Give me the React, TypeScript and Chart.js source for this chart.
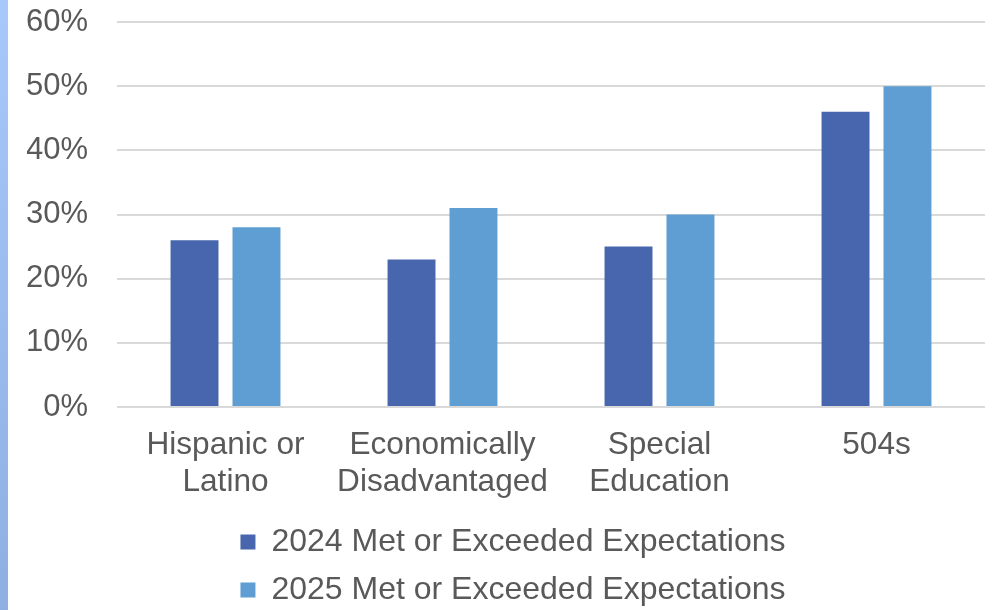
import React, { useEffect, useRef } from "react";
import { Chart, registerables } from "chart.js";

Chart.register(...registerables);

const categories: string[][] = [
  ["Hispanic or", "Latino"],
  ["Economically", "Disadvantaged"],
  ["Special", "Education"],
  ["504s"],
];
const series2024: number[] = [26, 23, 25, 46];
const series2025: number[] = [28, 31, 30, 50];
const seriesNames: string[] = [
  "2024 Met or Exceeded Expectations",
  "2025 Met or Exceeded Expectations",
];
const yTicks: number[] = [0, 10, 20, 30, 40, 50, 60];

const FONT = "'Liberation Sans', Arial, sans-serif";
const TEXT = "#595959";

export default function App() {
  const ref = useRef<HTMLCanvasElement | null>(null);

  useEffect(() => {
    if (!ref.current) return;
    const chart = new Chart(ref.current, {
      type: "bar",
      data: {
        labels: categories,
        datasets: [
          {
            label: seriesNames[0],
            data: series2024,
            backgroundColor: "#4866ad",
            categoryPercentage: 0.571,
            barPercentage: 0.774,
          },
          {
            label: seriesNames[1],
            data: series2025,
            backgroundColor: "#5f9ed2",
            categoryPercentage: 0.571,
            barPercentage: 0.774,
          },
        ],
      },
      options: {
        animation: false,
        responsive: false,
        maintainAspectRatio: false,
        layout: {
          autoPadding: false,
          padding: { left: 27, right: 1, top: 22, bottom: -6 },
        },
        plugins: {
          tooltip: { enabled: false },
          legend: {
            position: "bottom",
            labels: {
              color: TEXT,
              font: { family: FONT, size: 32 },
              boxWidth: 15,
              boxHeight: 15,
              padding: 16,
            },
          },
        },
        scales: {
          x: {
            grid: { display: false, drawTicks: false },
            border: { display: false },
            afterFit: (s: any) => {
              s.height = 103;
            },
            ticks: {
              color: TEXT,
              font: { family: FONT, size: 31.6, lineHeight: 1.17 },
              padding: 19.5,
              maxRotation: 0,
              autoSkip: false,
            },
          },
          y: {
            min: 0,
            max: 60,
            afterBuildTicks: (axis: any) => {
              axis.ticks = yTicks.map((v) => ({ value: v }));
            },
            afterFit: (s: any) => {
              s.width = 90;
            },
            grid: {
              color: "#d9d9d9",
              lineWidth: 2,
              drawTicks: true,
              tickLength: 29,
              tickColor: "rgba(0,0,0,0)",
            },
            border: { display: false },
            ticks: {
              color: TEXT,
              font: { family: FONT, size: 31 },
              padding: 0,
              callback: (v: any) => `${v}%`,
            },
          },
          yRight: {
            position: "right",
            min: 0,
            max: 60,
            grid: { display: false, drawTicks: false },
            border: { display: false },
            ticks: { display: false },
            afterFit: (s: any) => {
              s.width = 14;
            },
          },
        },
      },
    });
    return () => chart.destroy();
  }, []);

  return (
    <div
      style={{
        position: "fixed",
        left: 0,
        top: 0,
        width: 1000,
        height: 610,
        background: "#ffffff",
        overflow: "hidden",
      }}
    >
      <div
        style={{
          position: "absolute",
          left: 0,
          top: 0,
          width: 8,
          height: 610,
          background: "linear-gradient(#a6c9f9, #8eb0e1)",
        }}
      />
      <canvas
        ref={ref}
        width={1000}
        height={610}
        style={{ position: "absolute", left: 0, top: 0, width: 1000, height: 610 }}
      />
    </div>
  );
}
